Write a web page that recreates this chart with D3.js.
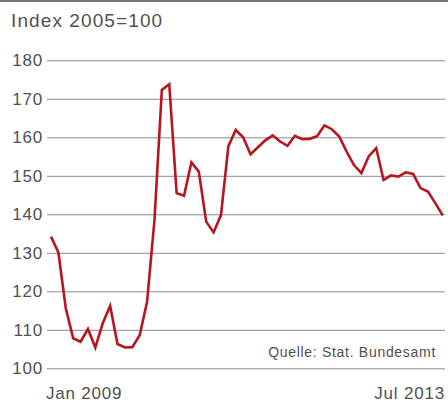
<!DOCTYPE html>
<html>
<head>
<meta charset="utf-8">
<script src="https://cdn.jsdelivr.net/npm/d3@7"></script>
<style>
  body { margin: 0; background: #fff; }
  svg text { font-family: "Liberation Sans", Arial, sans-serif; fill: #505050; }
</style>
</head>
<body>
<svg id="grafico"></svg>
<script>
// Monatswerte Jan 2009 - Jul 2013 (Index 2005=100)
var werte = [134.2, 130.1, 115.6, 107.8, 106.9, 110.2, 105.4, 111.7, 116.2, 106.3,
             105.4, 105.5, 108.6, 117.3, 138.5, 172.3, 173.8, 145.5, 144.8, 153.5,
             151.1, 138.1, 135.3, 139.8, 157.7, 161.9, 160.0, 155.6, 157.4, 159.2,
             160.5, 158.9, 157.8, 160.4, 159.5, 159.6, 160.3, 163.1, 162.1, 160.2,
             156.3, 152.8, 150.7, 155.1, 157.2, 148.9, 150.1, 149.8, 150.9, 150.5,
             146.8, 145.9, 142.9, 139.7];
var monate = werte.map(function(d, i) { return 'M' + i; });
var yTicks = [100, 110, 120, 130, 140, 150, 160, 170, 180];
var xLabels = ['Jan 2009', 'Jul 2013'];
var titel = 'Index 2005=100';
var quelle = 'Quelle: Stat. Bundesamt';

var largura = 448, altura = 403;
var margem = { esquerda: 47, direita: 2, superior: 60.3, inferior: 34.7 };
var larguraPlot = largura - margem.esquerda - margem.direita;
var alturaPlot = altura - margem.superior - margem.inferior;

var svg = d3.select('#grafico')
            .attr('width', largura)
            .attr('height', altura);

// Linie oben
svg.append('line')
   .attr('x1', 0).attr('x2', largura)
   .attr('y1', 1).attr('y2', 1)
   .attr('stroke', '#4a4a4a')
   .attr('stroke-width', 1.5);

// Titel
svg.append('text')
   .attr('x', 11).attr('y', 27)
   .style('font-size', '19px')
   .style('letter-spacing', '1.1px')
   .text(titel);

var plot = svg.append('g')
              .attr('transform', 'translate(' + margem.esquerda + ',' + margem.superior + ')');

var x = d3.scalePoint()
          .domain(monate)
          .range([4, 395.7]);
var y = d3.scaleLinear()
          .domain([100, 180])
          .range([alturaPlot, 0]);

// Gitterlinien
var grade = d3.axisRight(y)
              .tickValues(yTicks)
              .tickSize(larguraPlot - 1)
              .tickFormat('');
plot.append('g')
    .call(grade)
    .call(g => g.select('.domain').remove())
    .call(g => g.selectAll('line').attr('stroke', '#8c8c8c').attr('stroke-width', 1));

// Y-Achse Beschriftung
var eixoY = d3.axisLeft(y)
              .tickValues(yTicks)
              .tickSize(0)
              .tickPadding(4);
plot.append('g')
    .call(eixoY)
    .call(g => g.select('.domain').remove())
    .call(g => g.selectAll('text')
                .style('font-size', '17px')
                .style('letter-spacing', '0.8px')
                .attr('fill', '#505050')
                .attr('font-family', null));

// X-Beschriftung an den Rändern
plot.selectAll('.rotuloX')
    .data(xLabels)
    .enter()
    .append('text')
    .classed('rotuloX', true)
    .attr('x', (d, i) => i === 0 ? -1 : larguraPlot - 1)
    .attr('y', alturaPlot + 30.7)
    .attr('text-anchor', (d, i) => i === 0 ? 'start' : 'end')
    .style('font-size', '17px')
    .style('letter-spacing', '0.8px')
    .text(d => d);

// Quelle
plot.append('text')
    .attr('x', larguraPlot - 10)
    .attr('y', alturaPlot - 11)
    .attr('text-anchor', 'end')
    .style('font-size', '14px')
    .style('letter-spacing', '0.7px')
    .text(quelle);

// Linie
var linha = d3.line()
              .x((d, i) => x(monate[i]))
              .y(d => y(d));
plot.append('path')
    .datum(werte)
    .attr('d', linha)
    .attr('fill', 'none')
    .attr('stroke', '#b7161f')
    .attr('stroke-width', 2.6)
    .attr('stroke-linejoin', 'miter');
</script>
</body>
</html>
